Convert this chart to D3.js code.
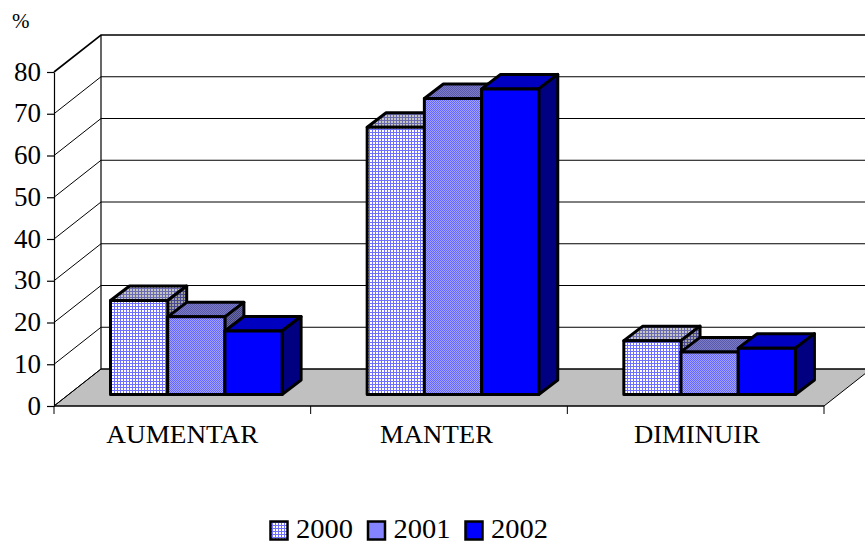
<!DOCTYPE html>
<html>
<head>
<meta charset="utf-8">
<script src="https://cdnjs.cloudflare.com/ajax/libs/d3/7.8.5/d3.min.js"></script>
<style>
    html, body { margin: 0; padding: 0; background: #fff; }
    svg { display: block; }
    text { font-family: "Liberation Serif", serif; fill: #000; }
</style>
</head>
<body>
<svg id="chart" width="865" height="544"></svg>
<script>
const categories = ['AUMENTAR', 'MANTER', 'DIMINUIR'];
const years = ['2000', '2001', '2002'];
const values2000 = [22.5, 64, 12.9];
const values2001 = [18.6, 70.9, 10.2];
const values2002 = [15.2, 73.2, 11.1];
const yTicks = [0, 10, 20, 30, 40, 50, 60, 70, 80];

const seriesValues = [values2000, values2001, values2002];
const labelWidths = [152, 113, 126];
const labelShift = [0, -2.5, 1.3];

const width = 865;
// floor depth of the 3d box and of a single bar
const depth = { x: 47, y: -37 };
const barDepth = { x: 19, y: -14.5 };
const barLift = 11.5;
const groupInset = 56.5;
const barWidth = 57.2;

const svg = d3.select('#chart');
const defs = svg.append('defs');

function gridPattern (id, bg, line) {
    const p = defs.append('pattern')
        .attr('id', id)
        .attr('width', 3)
        .attr('height', 3)
        .attr('patternUnits', 'userSpaceOnUse');
    p.append('rect').attr('width', 3).attr('height', 3).attr('fill', bg);
    p.append('rect').attr('width', 3).attr('height', 1).attr('fill', line);
    p.append('rect').attr('width', 1).attr('height', 3).attr('fill', line);
}
function ditherPattern (id, bg, line) {
    const p = defs.append('pattern')
        .attr('id', id)
        .attr('width', 2)
        .attr('height', 2)
        .attr('patternUnits', 'userSpaceOnUse');
    p.append('rect').attr('width', 2).attr('height', 2).attr('fill', bg);
    p.append('rect').attr('width', 1).attr('height', 1).attr('fill', line);
    p.append('rect').attr('x', 1).attr('y', 1).attr('width', 1).attr('height', 1).attr('fill', line);
}
gridPattern('front2000', '#ffffff', '#7070ff');
gridPattern('top2000', '#c4c4c4', '#6a6ab0');
gridPattern('side2000', '#a0a0a0', '#484890');
ditherPattern('front2001', '#a4a4ff', '#6464ff');
ditherPattern('top2001', '#7c7cc4', '#5858ac');
ditherPattern('side2001', '#6c6c9c', '#404088');

const seriesFill = [
    { front: 'url(#front2000)', top: 'url(#top2000)', side: 'url(#side2000)' },
    { front: 'url(#front2001)', top: 'url(#top2001)', side: 'url(#side2001)' },
    { front: '#0000ff', top: '#0000c0', side: '#000080' }
];

const x = d3.scaleBand().domain(categories).range([54, 824]);
const y = d3.scaleLinear().domain([0, 80]).range([406, 72]);
const barX = d3.scaleBand().domain(d3.range(years.length)).range([groupInset, groupInset + barWidth * years.length]);

const poly = pts => pts.map(p => p.join(',')).join(' ');

// floor
svg.append('polygon')
    .attr('points', poly([
        [x.range()[0], y(0)],
        [x.range()[0] + depth.x, y(0) + depth.y],
        [x.range()[1] + depth.x, y(0) + depth.y],
        [x.range()[1], y(0)]
    ]))
    .attr('fill', '#c0c0c0')
    .attr('stroke', '#000')
    .attr('stroke-width', 1);

// gridlines: side wall then back wall
const grid = svg.append('g').attr('stroke', '#000').attr('fill', 'none');
grid.selectAll('path.grid')
    .data(yTicks)
    .join('path')
    .attr('class', 'grid')
    .attr('stroke-width', d => d === 80 ? 1.6 : 1)
    .attr('d', d => `M${x.range()[0]},${y(d)}L${x.range()[0] + depth.x},${y(d) + depth.y}L${width},${y(d) + depth.y}`);
grid.append('line')
    .attr('x1', x.range()[0] + depth.x)
    .attr('x2', x.range()[0] + depth.x)
    .attr('y1', y(80) + depth.y)
    .attr('y2', y(0) + depth.y)
    .attr('stroke-width', 1.2);

// axes
const axisLeft = d3.axisLeft(y).tickValues(yTicks).tickSize(7).tickPadding(6).tickSizeOuter(0);
const gy = svg.append('g').attr('transform', `translate(${x.range()[0]},0)`).call(axisLeft);
gy.selectAll('text').attr('font-size', 27).style('font-family', '"Liberation Serif", serif').attr('dy', '0.3em');
gy.selectAll('line, path').attr('stroke', '#000').attr('stroke-width', 1.2);

const bottomTicks = d3.range(categories.length + 1).map(i => x.range()[0] + i * x.step());
svg.append('g')
    .selectAll('line')
    .data(bottomTicks)
    .join('line')
    .attr('x1', d => d)
    .attr('x2', d => d)
    .attr('y1', y(0))
    .attr('y2', y(0) + 8)
    .attr('stroke', '#000');
svg.append('line')
    .attr('x1', x.range()[0])
    .attr('x2', x.range()[1])
    .attr('y1', y(0))
    .attr('y2', y(0))
    .attr('stroke', '#000')
    .attr('stroke-width', 1.2);

svg.append('g')
    .selectAll('text')
    .data(categories)
    .join('text')
    .attr('x', (d, i) => x(d) + x.step() / 2 + labelShift[i])
    .attr('y', 443)
    .attr('text-anchor', 'middle')
    .attr('font-size', 26)
    .attr('textLength', (d, i) => labelWidths[i])
    .attr('lengthAdjust', 'spacingAndGlyphs')
    .text(d => d);

// bars, left to right so the later ones cover the side of the earlier ones
const bars = svg.append('g')
    .attr('stroke', '#000')
    .attr('stroke-width', 3)
    .attr('stroke-linejoin', 'round');
categories.forEach((cat, c) => {
    years.forEach((yr, s) => {
        const left = x(cat) + barX(s);
        const right = left + barX.bandwidth();
        const top = y(seriesValues[s][c]) - barLift;
        const bottom = y(0) - barLift;
        const f = seriesFill[s];
        bars.append('polygon')
            .attr('fill', f.top)
            .attr('points', poly([[left, top], [left + barDepth.x, top + barDepth.y], [right + barDepth.x, top + barDepth.y], [right, top]]));
        bars.append('polygon')
            .attr('fill', f.side)
            .attr('points', poly([[right, top], [right + barDepth.x, top + barDepth.y], [right + barDepth.x, bottom + barDepth.y], [right, bottom]]));
        bars.append('rect')
            .attr('fill', f.front)
            .attr('x', left)
            .attr('y', top)
            .attr('width', right - left)
            .attr('height', bottom - top);
    });
});

// unit label
svg.append('text').attr('x', 12).attr('y', 28).attr('font-size', 21).text('%');

// legend
const legendX = d3.scaleLinear().domain([0, 2]).range([269, 464]);
const legend = svg.append('g')
    .selectAll('g')
    .data(years)
    .join('g')
    .attr('transform', (d, i) => `translate(${legendX(i)},0)`);
legend.append('rect')
    .attr('x', 1.5)
    .attr('y', 521.5)
    .attr('width', 17)
    .attr('height', 18)
    .attr('fill', (d, i) => seriesFill[i].front)
    .attr('stroke', '#000')
    .attr('stroke-width', 2.5);
legend.append('text')
    .attr('x', 27)
    .attr('y', 538)
    .attr('font-size', 27.5)
    .attr('textLength', 57)
    .attr('lengthAdjust', 'spacingAndGlyphs')
    .text(d => d);
</script>
</body>
</html>
